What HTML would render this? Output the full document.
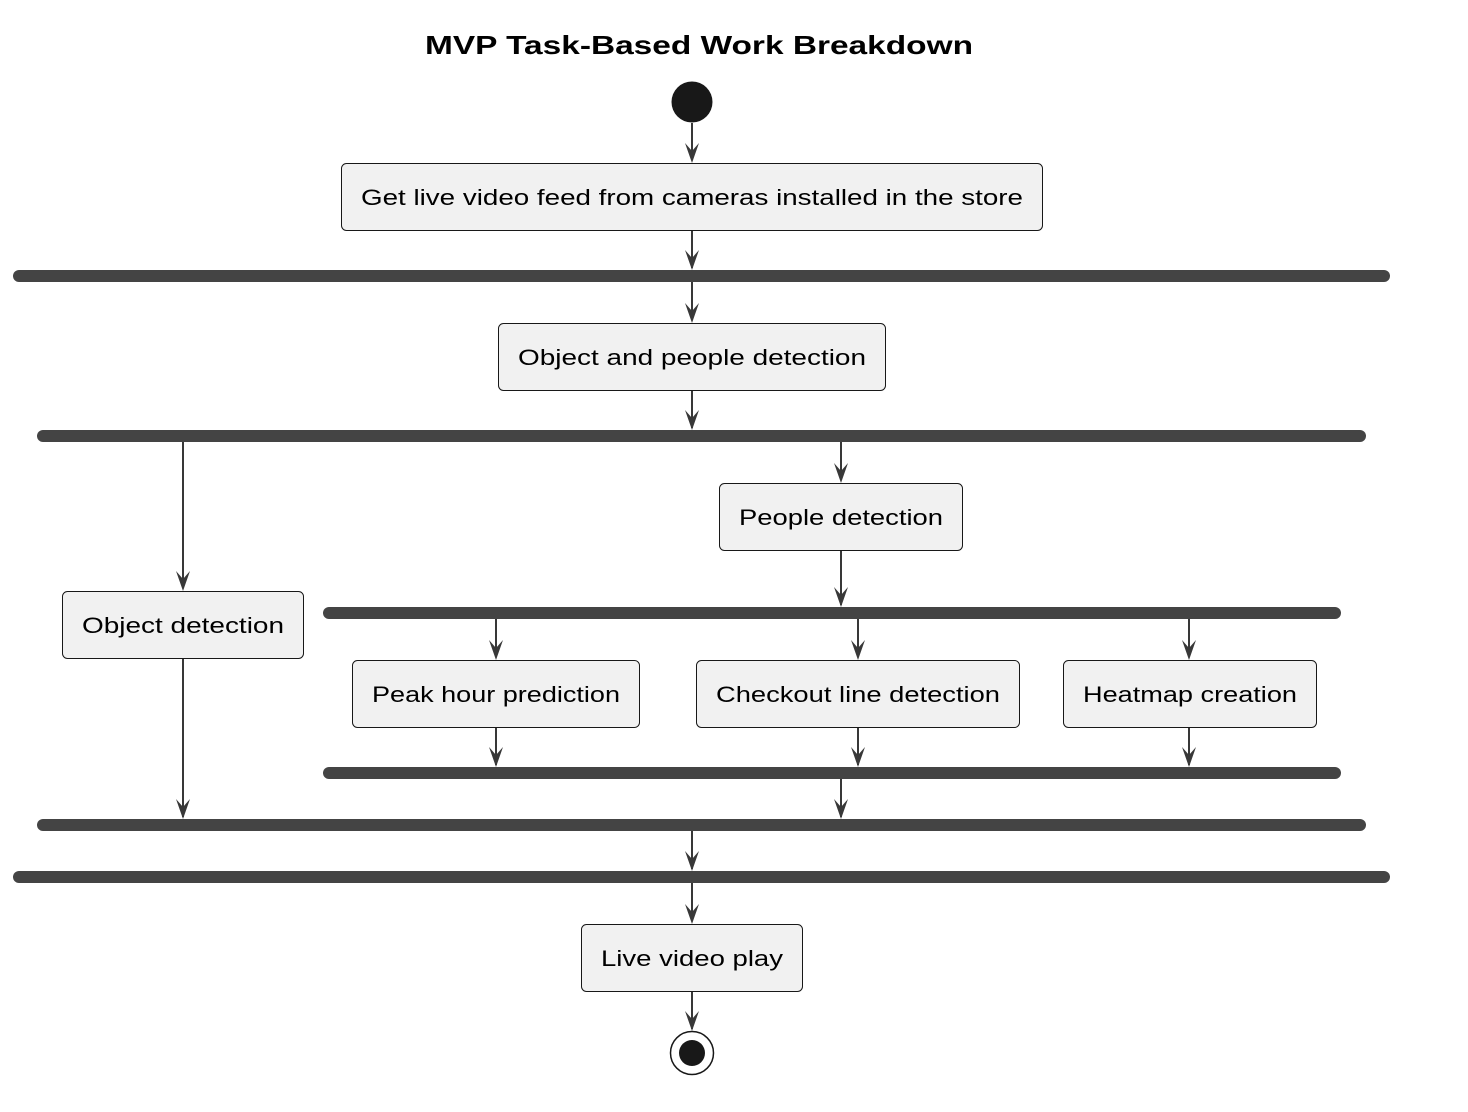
<!DOCTYPE html>
<html><head><meta charset="utf-8"><style>
html,body{margin:0;padding:0;background:#fff;}
svg{display:block;}
text{font-family:"Liberation Sans",Arial,sans-serif;fill:#000;}
</style></head><body>
<svg width="1468" height="1112" viewBox="0 0 1468 1112" xmlns="http://www.w3.org/2000/svg">
<defs>
<marker id="a" markerUnits="userSpaceOnUse" markerWidth="20" markerHeight="24" refX="10" refY="21" orient="auto-start-reverse" viewBox="0 0 20 24">
</marker>
</defs>
<text x="699" y="54" font-size="26" font-weight="bold" text-anchor="middle" textLength="548" lengthAdjust="spacingAndGlyphs">MVP Task-Based Work Breakdown</text>
<circle cx="692" cy="102" r="20.5" fill="#181818"/>
<g stroke="#383838" stroke-width="2" fill="none">
<line x1="692" y1="123" x2="692" y2="160"/>
<line x1="692" y1="230" x2="692" y2="268"/>
<line x1="692" y1="282" x2="692" y2="320"/>
<line x1="692" y1="390" x2="692" y2="428"/>
<line x1="183" y1="442" x2="183" y2="588"/>
<line x1="841" y1="442" x2="841" y2="480"/>
<line x1="841" y1="550" x2="841" y2="605"/>
<line x1="496" y1="619" x2="496" y2="657"/>
<line x1="858" y1="619" x2="858" y2="657"/>
<line x1="1189" y1="619" x2="1189" y2="657"/>
<line x1="496" y1="727" x2="496" y2="765"/>
<line x1="858" y1="727" x2="858" y2="765"/>
<line x1="1189" y1="727" x2="1189" y2="765"/>
<line x1="183" y1="658" x2="183" y2="817"/>
<line x1="841" y1="779" x2="841" y2="817"/>
<line x1="692" y1="831" x2="692" y2="869"/>
<line x1="692" y1="883" x2="692" y2="921"/>
<line x1="692" y1="991" x2="692" y2="1029"/>
</g>
<g fill="#383838">
<path d="M685 143 L692 163 L699 143 L692 151 Z"/>
<path d="M685 250 L692 270 L699 250 L692 258 Z"/>
<path d="M685 303 L692 323 L699 303 L692 311 Z"/>
<path d="M685 410 L692 430 L699 410 L692 418 Z"/>
<path d="M176 571 L183 591 L190 571 L183 579 Z"/>
<path d="M834 463 L841 483 L848 463 L841 471 Z"/>
<path d="M834 587 L841 607 L848 587 L841 595 Z"/>
<path d="M489 640 L496 660 L503 640 L496 648 Z"/>
<path d="M851 640 L858 660 L865 640 L858 648 Z"/>
<path d="M1182 640 L1189 660 L1196 640 L1189 648 Z"/>
<path d="M489 747 L496 767 L503 747 L496 755 Z"/>
<path d="M851 747 L858 767 L865 747 L858 755 Z"/>
<path d="M1182 747 L1189 767 L1196 747 L1189 755 Z"/>
<path d="M176 799 L183 819 L190 799 L183 807 Z"/>
<path d="M834 799 L841 819 L848 799 L841 807 Z"/>
<path d="M685 851 L692 871 L699 851 L692 859 Z"/>
<path d="M685 904 L692 924 L699 904 L692 912 Z"/>
<path d="M685 1011 L692 1031 L699 1011 L692 1019 Z"/>
</g>
<g fill="#444444">
<rect x="13" y="270" width="1377" height="12" rx="6"/>
<rect x="37" y="430" width="1329" height="12" rx="6"/>
<rect x="323" y="607" width="1018" height="12" rx="6"/>
<rect x="323" y="767" width="1018" height="12" rx="6"/>
<rect x="37" y="819" width="1329" height="12" rx="6"/>
<rect x="13" y="871" width="1377" height="12" rx="6"/>
</g>
<g fill="#f1f1f1" stroke="#181818" stroke-width="1">
<rect x="341.5" y="163.5" width="701" height="67" rx="5"/>
<rect x="498.5" y="323.5" width="387" height="67" rx="5"/>
<rect x="719.5" y="483.5" width="243" height="67" rx="5"/>
<rect x="62.5" y="591.5" width="241" height="67" rx="5"/>
<rect x="352.5" y="660.5" width="287" height="67" rx="5"/>
<rect x="696.5" y="660.5" width="323" height="67" rx="5"/>
<rect x="1063.5" y="660.5" width="253" height="67" rx="5"/>
<rect x="581.5" y="924.5" width="221" height="67" rx="5"/>
</g>
<g font-size="22">
<text x="361" y="205" textLength="662" lengthAdjust="spacingAndGlyphs">Get live video feed from cameras installed in the store</text>
<text x="518" y="365" textLength="348" lengthAdjust="spacingAndGlyphs">Object and people detection</text>
<text x="739" y="525" textLength="204" lengthAdjust="spacingAndGlyphs">People detection</text>
<text x="82" y="633" textLength="202" lengthAdjust="spacingAndGlyphs">Object detection</text>
<text x="372" y="702" textLength="248" lengthAdjust="spacingAndGlyphs">Peak hour prediction</text>
<text x="716" y="702" textLength="284" lengthAdjust="spacingAndGlyphs">Checkout line detection</text>
<text x="1083" y="702" textLength="214" lengthAdjust="spacingAndGlyphs">Heatmap creation</text>
<text x="601" y="966" textLength="182" lengthAdjust="spacingAndGlyphs">Live video play</text>
</g>
<circle cx="692" cy="1053" r="21.5" fill="none" stroke="#181818" stroke-width="1.5"/>
<circle cx="692" cy="1053" r="13" fill="#181818"/>
</svg>
</body></html>
